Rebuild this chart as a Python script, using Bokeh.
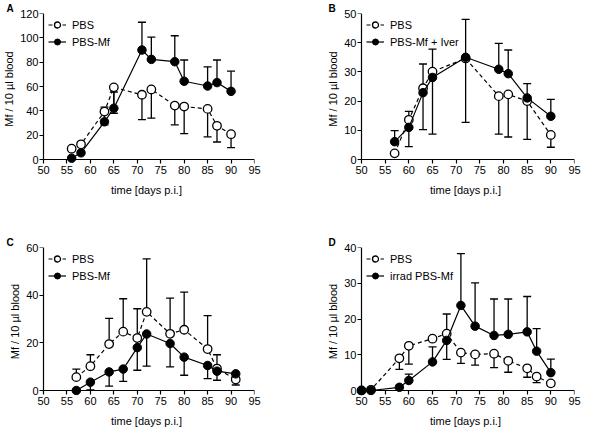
from bokeh.plotting import figure
from bokeh.models import (Range1d, Whisker, TeeHead, Legend, LegendItem, Title,
                          ColumnDataSource, FixedTicker, LinearAxis,
                          CustomLabelingPolicy)
from bokeh.layouts import gridplot
from bokeh.embed import file_html
from bokeh.resources import INLINE

FONT = "Liberation Sans"

# ---------------- data ----------------
x_ticks = [50, 55, 60, 65, 70, 75, 80, 85, 90, 95]

# Panel A
a_days = [56, 58, 63, 65, 71, 73, 78, 80, 85, 87, 90]
a_pbs = [8.9, 12.5, 39.4, 59.3, 53.2, 57.6, 44.3, 43.5, 41.6, 27.7, 20.8]
a_pbs_err = [8.9, 12.5, 28.4, 38.0, 32.7, 34.0, 28.5, 21.3, 18.6, 14.4, 9.7]
a_mf = [1.1, 5.5, 31.0, 42.1, 90.0, 82.3, 80.4, 64.3, 60.4, 63.2, 56.0]
a_mf_err = [1.1, 5.5, 43.0, 55.5, 112.8, 100.6, 101.7, 81.8, 76.2, 81.8, 72.6]
a_yticks = [0, 20, 40, 60, 80, 100, 120]

# Panel B
b_days = [57, 60, 63, 65, 72, 79, 81, 85, 90]
b_pbs = [2.1, 13.6, 24.4, 30.1, 34.6, 21.7, 22.3, 20.0, 8.4]
b_pbs_err = [2.1, 4.4, 10.2, 8.7, 12.7, 8.7, 7.7, 6.9, 4.2]
b_mf = [6.1, 11.0, 22.9, 28.1, 35.0, 30.9, 29.4, 21.1, 14.8]
b_mf_err = [9.9, 16.5, 32.7, 37.8, 48.0, 39.8, 37.5, 26.0, 20.6]
b_yticks = [0, 10, 20, 30, 40, 50]

# Panel C
c_days = [57, 60, 64, 67, 70, 72, 77, 80, 85, 87, 91]
c_pbs = [5.6, 10.2, 19.5, 24.7, 22.0, 33.0, 23.8, 25.5, 17.4, 9.2, 4.6]
c_pbs_err = [9.0, 15.0, 30.3, 38.5, 34.3, 55.2, 38.8, 41.3, 31.4, 15.0, 5.0]
c_mf = [0.0, 3.5, 7.8, 9.0, 18.0, 23.7, 19.7, 14.0, 10.5, 8.1, 7.0]
c_mf_err = [0.0, 0.3, 1.8, 3.8, 8.5, 10.2, 9.9, 6.4, 5.0, 4.3, 2.3]
c_yticks = [0, 20, 40, 60]

# Panel D
d_days = [50, 52, 58, 60, 65, 68, 71, 74, 78, 81, 85, 87, 90]
d_pbs = [0.0, 0.2, 9.0, 12.5, 14.5, 15.9, 10.6, 10.1, 10.3, 8.3, 6.2, 3.9, 2.0]
d_pbs_err = [0.0, 0.2, 5.9, 7.4, 14.5, 8.7, 7.6, 7.1, 6.4, 5.1, 3.7, 2.2, 1.3]
d_mf = [0.0, 0.0, 0.9, 2.8, 8.0, 14.0, 23.8, 18.0, 15.4, 15.7, 16.4, 11.0, 5.0]
d_mf_err = [0.0, 0.0, 0.9, 4.6, 12.2, 21.4, 38.3, 30.1, 25.6, 25.6, 26.3, 17.3, 8.8]
d_yticks = [0, 10, 20, 30, 40]

labels = {
    "A": ("PBS", "PBS-Mf"),
    "B": ("PBS", "PBS-Mf + Iver"),
    "C": ("PBS", "PBS-Mf"),
    "D": ("PBS", "irrad PBS-Mf"),
}
x_label = "time [days p.i.]"
y_label = "Mf / 10 µl blood"

PAD = 5  # px of empty space so markers on the axes are not cut

NO_LABELS = """
for (let i = 0; i < indices.size; i++) { indices.unset(i) }
return indices
"""


def add_errors(p, days, mean, err_end):
    lo = [min(m, e) for m, e in zip(mean, err_end)]
    hi = [max(m, e) for m, e in zip(mean, err_end)]
    up = sum(e - m for m, e in zip(mean, err_end)) >= 0
    src = ColumnDataSource(dict(x=days, lo=lo, hi=hi))
    head = TeeHead(size=8, line_width=1.3, line_color="black")
    w = Whisker(source=src, base="x", lower="lo", upper="hi", dimension="height",
                line_color="black", line_width=1.3, level="underlay",
                upper_head=head if up else None,
                lower_head=None if up else head)
    p.add_layout(w)


def style_labels(ax):
    ax.axis_line_color = None
    ax.major_tick_line_color = None
    ax.major_tick_out = 0
    ax.major_tick_in = 0
    ax.minor_tick_line_color = None
    ax.major_label_text_font = FONT
    ax.major_label_text_font_size = "11px"
    ax.major_label_text_color = "black"
    ax.axis_label_text_font = FONT
    ax.axis_label_text_font_size = "11px"
    ax.axis_label_text_font_style = "normal"
    ax.axis_label_text_color = "black"


def line_axis(ticks, bounds, loc):
    ax = LinearAxis(ticker=FixedTicker(ticks=ticks), bounds=bounds,
                    fixed_location=loc,
                    axis_line_color="black", axis_line_width=1.2,
                    major_tick_line_color="black", major_tick_line_width=1.2,
                    major_tick_out=4, major_tick_in=0,
                    minor_tick_line_color=None,
                    major_label_policy=CustomLabelingPolicy(code=NO_LABELS),
                    major_label_text_alpha=0)
    return ax


def make_panel(letter, days, pbs, pbs_err, mf, mf_err, yticks,
               data_w, data_h, bl, br, bt, bb, letter_off):
    ymax = yticks[-1]
    frame_w = data_w + PAD
    frame_h = data_h + PAD
    x_pad = PAD * 45 / data_w
    y_pad = PAD * ymax / data_h
    p = figure(frame_width=frame_w, frame_height=frame_h,
               x_range=Range1d(50 - x_pad, 95), y_range=Range1d(-y_pad, ymax),
               output_backend="svg", toolbar_location=None,
               min_border_left=bl, min_border_right=br,
               min_border_top=bt, min_border_bottom=bb)
    p.grid.visible = False
    p.outline_line_color = None
    p.background_fill_color = "white"
    p.border_fill_color = "white"

    # label-only axes at the frame edges
    p.xaxis.ticker = FixedTicker(ticks=x_ticks)
    p.yaxis.ticker = FixedTicker(ticks=yticks)
    style_labels(p.xaxis[0])
    style_labels(p.yaxis[0])
    p.xaxis.axis_label = x_label
    p.yaxis.axis_label = y_label
    p.xaxis.major_label_standoff = 1
    p.yaxis.major_label_standoff = 0
    p.xaxis.axis_label_standoff = 7
    p.yaxis.axis_label_standoff = 2

    # axis lines and ticks through the data origin (50, 0)
    p.add_layout(line_axis(x_ticks, (50, 95), 0), "below")
    p.add_layout(line_axis(yticks, (0, ymax), 50), "left")

    add_errors(p, days, pbs, pbs_err)
    add_errors(p, days, mf, mf_err)

    l1 = p.line(days, pbs, line_color="black", line_width=1.2, line_dash="4 3")
    s1 = p.scatter(days, pbs, size=8.5, marker="circle", fill_color="white",
                   line_color="black", line_width=1.3)
    l2 = p.line(days, mf, line_color="black", line_width=1.2)
    s2 = p.scatter(days, mf, size=8.5, marker="circle", fill_color="black",
                   line_color="black", line_width=1.0)

    lab1, lab2 = labels[letter]
    leg = Legend(items=[LegendItem(label=lab1, renderers=[l1, s1]),
                        LegendItem(label=lab2, renderers=[l2, s2])],
                 location=(PAD + 5, frame_h - 36),
                 label_text_font=FONT, label_text_font_size="11px",
                 label_text_color="black",
                 glyph_width=18, glyph_height=15, label_height=15,
                 label_standoff=6, spacing=2, padding=0, margin=0,
                 border_line_color=None, background_fill_alpha=0)
    p.add_layout(leg)

    p.add_layout(Title(text=letter, align="left", offset=letter_off,
                       text_font=FONT, text_font_style="bold",
                       text_font_size="10px", text_color="black",
                       standoff=0), "above")
    return p


pA = make_panel("A", a_days, a_pbs, a_pbs_err, a_mf, a_mf_err, a_yticks,
                211, 146, 34, 30, 12, 33, -32)
pB = make_panel("B", b_days, b_pbs, b_pbs_err, b_mf, b_mf_err, b_yticks,
                213, 146, 72, 7, 12, 33, -28)
pC = make_panel("C", c_days, c_pbs, c_pbs_err, c_mf, c_mf_err, c_yticks,
                211, 143, 34, 30, 49, 33, -32)
pD = make_panel("D", d_days, d_pbs, d_pbs_err, d_mf, d_mf_err, d_yticks,
                213, 143, 72, 7, 49, 33, -28)

grid = gridplot([[pA, pB], [pC, pD]], toolbar_location=None)

open("out.html", "w").write(file_html(grid, INLINE))
